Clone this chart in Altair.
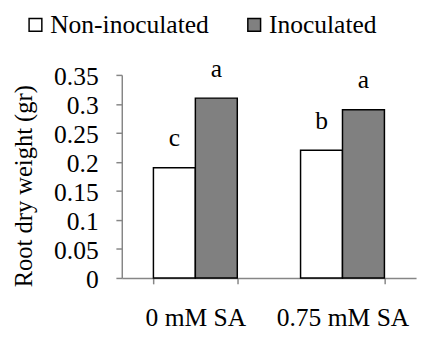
import altair as alt
import pandas as pd

groups = ["0 mM SA", "0.75 mM SA"]
treatments = ["Non-inoculated", "Inoculated"]
non_inoculated = [0.19, 0.22]
inoculated = [0.31, 0.29]
letters_non = ["c", "b"]
letters_ino = ["a", "a"]
y_ticks = [0, 0.05, 0.1, 0.15, 0.2, 0.25, 0.3, 0.35]
colors = ["white", "#808080"]

rows = []
for i, g in enumerate(groups):
    rows.append({"group": g, "treatment": treatments[0], "value": non_inoculated[i], "letter": letters_non[i]})
    rows.append({"group": g, "treatment": treatments[1], "value": inoculated[i], "letter": letters_ino[i]})
df = pd.DataFrame(rows)

FONT = "Liberation Serif"
FS = 26
AXIS_GRAY = "#868686"

x_enc = alt.X(
    "group:N",
    sort=groups,
    scale=alt.Scale(paddingInner=0.43, paddingOuter=0.215),
    axis=alt.Axis(
        title=None,
        labelAngle=0,
        labelFont=FONT,
        labelFontSize=FS,
        labelColor="black",
        labelPadding=21,
        domainColor=AXIS_GRAY,
        domainWidth=1.5,
        tickColor=AXIS_GRAY,
        tickWidth=1.5,
        tickSize=6,
        tickBand="extent",
    ),
)
xoff_enc = alt.XOffset("treatment:N", sort=treatments, scale=alt.Scale(paddingInner=0, paddingOuter=0))
y_enc = alt.Y(
    "value:Q",
    scale=alt.Scale(domain=[0, 0.35], nice=False),
    axis=alt.Axis(
        title="Root dry weight (gr)",
        titleFont=FONT,
        titleFontSize=25,
        titleFontWeight="normal",
        titleColor="black",
        titleX=-92,
        titleY=113,
        titleBaseline="alphabetic",
        values=y_ticks,
        format="~g",
        labelOverlap=False,
        labelFont=FONT,
        labelFontSize=FS,
        labelColor="black",
        labelPadding=18,
        labelOffset=2,
        grid=False,
        domainColor=AXIS_GRAY,
        domainWidth=1.5,
        tickColor=AXIS_GRAY,
        tickWidth=1.5,
        tickSize=6,
    ),
)

base = alt.Chart(df).encode(x=x_enc, xOffset=xoff_enc, y=y_enc)

bars = base.mark_bar(stroke="black", strokeWidth=1.5).encode(
    color=alt.Color(
        "treatment:N",
        sort=treatments,
        scale=alt.Scale(domain=treatments, range=colors),
        legend=alt.Legend(
            title=None,
            orient="none",
            direction="horizontal",
            legendX=-101,
            legendY=-64,
            padding=0,
            symbolType="square",
            symbolSize=169,
            symbolStrokeColor="black",
            symbolStrokeWidth=1.5,
            labelFont=FONT,
            labelFontSize=FS,
            labelColor="black",
            labelLimit=400,
            labelOffset=2,
            columnPadding=33,
        ),
    ),
)

text = base.mark_text(
    dy=-17, baseline="bottom", font=FONT, fontSize=FS, color="black"
).encode(text="letter:N")

chart = (
    alt.layer(bars, text)
    .properties(
        width=300,
        height=207,
        padding={"left": 116, "top": 65, "right": 3, "bottom": 58},
        autosize="none",
    )
    .configure(font=FONT)
    .configure_legend(labelFont=FONT)
    .configure_axis(labelFont=FONT, titleFont=FONT)
    .configure_text(font=FONT)
    .configure_view(stroke=None)
)

chart.save("out.html", embed_options={"renderer": "svg", "actions": False})
